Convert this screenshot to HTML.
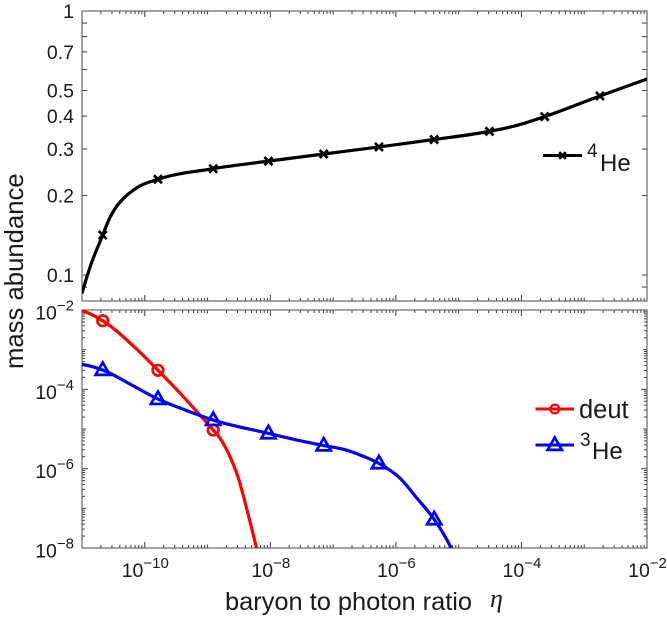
<!DOCTYPE html>
<html>
<head>
<meta charset="utf-8">
<title>Big bang nucleosynthesis abundances</title>
<style>
html,body{margin:0;padding:0;background:#fff;width:667px;height:619px;overflow:hidden}
svg{display:block;font-family:"Liberation Sans",sans-serif;fill:#1a1a1a}
</style>
</head>
<body>
<svg id="chart" width="667" height="619" viewBox="0 0 667 619" xmlns="http://www.w3.org/2000/svg">
<defs>
<clipPath id="clip-top"><rect x="82" y="11" width="565" height="290"/></clipPath>
<clipPath id="clip-bottom"><rect x="82" y="310" width="565" height="238"/></clipPath>
</defs>
<text transform="translate(23,369) rotate(-90)" font-size="25.7">mass abundance</text>
<text x="225" y="610" font-size="25.4">baryon to photon ratio</text>
<text x="490" y="607" font-size="26" font-style="italic" style="font-family:'Liberation Serif',serif">η</text>
<g id="grid-layer"></g>
<g id="series-layer"></g>
<g>
<text x="587" y="157" font-size="19">4</text>
<text x="600" y="171" font-size="24">He</text>
</g>
<g>
<text x="579" y="418" font-size="25.5">deut</text>
</g>
<g>
<text x="580" y="446" font-size="19">3</text>
<text x="592" y="459" font-size="24">He</text>
</g>
</svg>
<script>
// x values are log10(eta)
const he4LogEta = [-11, -10.87, -10.67, -10.574, -10.47, -10.31, -10.1, -9.79, -8.91, -8.03, -7.15, -6.27, -5.39, -4.51, -4.09, -3.63, -2.75, -2];
const he4Values = [0.0852, 0.1075, 0.1417, 0.1615, 0.179, 0.198, 0.216, 0.2305, 0.2528, 0.27, 0.2873, 0.3055, 0.326, 0.35, 0.3677, 0.398, 0.4767, 0.5525];
const he4MarkerEta = [-10.67, -9.79, -8.91, -8.03, -7.15, -6.27, -5.39, -4.51, -3.63, -2.75];
const he4MarkerValues = [0.1417, 0.2305, 0.2528, 0.27, 0.2873, 0.3055, 0.326, 0.35, 0.398, 0.4767];

const deutLogEta = [-11, -10.67, -10.155, -9.79, -9.41, -8.91, -8.826, -8.667, -8.507, -8.373, -8.225, -8.19];
const deutValues = [0.0097, 0.00537, 0.00113, 0.000302, 0.0000718, 0.0000094, 0.00000664, 0.00000243, 5.62e-7, 9.33e-8, 1.05e-8, 6e-9];
const deutMarkerEta = [-10.67, -9.79, -8.91];
const deutMarkerValues = [0.00537, 0.000302, 0.0000094];

const he3LogEta = [-11, -10.67, -10.207, -9.79, -9.357, -8.91, -8.03, -7.576, -7.15, -6.832, -6.566, -6.27, -5.928, -5.662, -5.39, -5.13, -5.083];
const he3Values = [0.000427, 0.000307, 0.000128, 0.0000569, 0.0000301, 0.0000168, 0.00000776, 0.00000526, 0.00000383, 0.00000307, 0.0000022, 0.00000136, 5.62e-7, 1.78e-7, 5.26e-8, 1.07e-8, 7.4e-9];
const he3MarkerEta = [-10.67, -9.79, -8.91, -8.03, -7.15, -6.27, -5.39];
const he3MarkerValues = [0.000307, 0.0000569, 0.0000168, 0.00000776, 0.00000383, 0.00000136, 5.26e-8];

const xTickExponents = [-10, -8, -6, -4, -2];
const topTickLabels = ["1", "0.7", "0.5", "0.4", "0.3", "0.2", "0.1"];
const topTickValues = [1, 0.7, 0.5, 0.4, 0.3, 0.2, 0.1];
const topMinorValues = [0.9, 0.8, 0.6, 0.09];
const bottomTickExponents = [-2, -4, -6, -8];

const NS = 'http://www.w3.org/2000/svg';
const grid = document.getElementById('grid-layer');
const seriesLayer = document.getElementById('series-layer');

const xLeft = 82, xRight = 647, xMin = -11, xMax = -2;
function xScale(logEta) { return xLeft + (logEta - xMin) / (xMax - xMin) * (xRight - xLeft); }
const topY0 = 11, topY1 = 301;
function yTop(v) { return topY0 - Math.log10(v) * 264; }
const botY0 = 310, botY1 = 548;
function yBottom(v) { return botY0 + (-2 - Math.log10(v)) / 6 * (botY1 - botY0); }

function shape(tag, attrs, parent) {
  const el = document.createElementNS(NS, tag);
  for (const k in attrs) el.setAttribute(k, attrs[k]);
  parent.appendChild(el);
  return el;
}
function tickLine(x1, y1, x2, y2) {
  const el = shape('line', {x1: x1, y1: y1, x2: x2, y2: y2, stroke: '#3a3a3a', 'stroke-width': 1}, grid);
  
  
}
function frame(y0, y1, name) {
  const el = shape('rect', {x: xLeft, y: y0, width: xRight - xLeft, height: y1 - y0, fill: 'none', stroke: '#666', 'stroke-width': 1.2}, grid);
  
  
}
function expLabel(x, y, anchor, exp, name) {
  const t = shape('text', {x: x, y: y, 'text-anchor': anchor, 'font-size': 19.5}, grid);
  
  
  t.textContent = '10';
  const s = shape('tspan', {dy: -9, 'font-size': 15}, t);
  s.textContent = '\u2212' + Math.abs(exp);
}
function plainLabel(x, y, text, name) {
  const t = shape('text', {x: x, y: y, 'text-anchor': 'end', 'font-size': 19.5}, grid);
  
  
  t.textContent = text;
}

// x ticks for both panels
[[topY0, topY1], [botY0, botY1]].forEach(function (p) {
  for (let d = xMin; d <= xMax; d++) {
    const X = xScale(d);
    const major = d % 2 === 0;
    const len = major ? 6 : 3.5;
    tickLine(X, p[0], X, p[0] + len);
    tickLine(X, p[1], X, p[1] - len);
    if (d < xMax) {
      for (let m = 2; m < 10; m++) {
        const Xm = xScale(d + Math.log10(m));
        tickLine(Xm, p[0], Xm, p[0] + 3);
        tickLine(Xm, p[1], Xm, p[1] - 3);
      }
    }
  }
});

// top panel y ticks
topTickValues.concat(topMinorValues).forEach(function (v) {
  const Y = yTop(v);
  tickLine(xLeft, Y, xLeft + 5, Y);
  tickLine(xRight, Y, xRight - 5, Y);
});
topTickValues.forEach(function (v, i) {
  plainLabel(74, yTop(v) + 7, topTickLabels[i], 'y-tick-label-top');
});

// bottom panel y ticks
for (let d = -8; d < -2; d++) {
  for (let m = 1; m < 10; m++) {
    const Y = yBottom(m * Math.pow(10, d));
    const len = m === 1 ? (d % 2 === 0 ? 6 : 4) : 3;
    tickLine(xLeft, Y, xLeft + len, Y);
    tickLine(xRight, Y, xRight - len, Y);
  }
}
tickLine(xLeft, botY0, xLeft + 6, botY0);
tickLine(xRight, botY0, xRight - 6, botY0);
bottomTickExponents.forEach(function (e) {
  expLabel(74, yBottom(Math.pow(10, e)) + 9.5, 'end', e, 'y-tick-label-bottom');
});
xTickExponents.forEach(function (e) {
  expLabel(xScale(e) + 0.5, 577, 'middle', e, 'x-tick-label');
});
frame(topY0, topY1, 'top-panel-frame');
frame(botY0, botY1, 'bottom-panel-frame');

// Cubic Hermite path with spacing-aware (parabolic) tangents
function smoothPath(pts) {
  const n = pts.length;
  const h = [], m = [], t = [];
  for (let i = 0; i < n - 1; i++) {
    h.push(pts[i + 1][0] - pts[i][0]);
    m.push((pts[i + 1][1] - pts[i][1]) / h[i]);
  }
  t[0] = ((2 * h[0] + h[1]) * m[0] - h[0] * m[1]) / (h[0] + h[1]);
  for (let i = 1; i < n - 1; i++) {
    t[i] = (h[i] * m[i - 1] + h[i - 1] * m[i]) / (h[i - 1] + h[i]);
  }
  t[n - 1] = ((2 * h[n - 2] + h[n - 3]) * m[n - 2] - h[n - 2] * m[n - 3]) / (h[n - 2] + h[n - 3]);
  let d = 'M' + pts[0][0].toFixed(2) + ' ' + pts[0][1].toFixed(2);
  for (let i = 0; i < n - 1; i++) {
    d += 'C' + (pts[i][0] + h[i] / 3).toFixed(2) + ' ' + (pts[i][1] + t[i] * h[i] / 3).toFixed(2) + ' ' +
         (pts[i + 1][0] - h[i] / 3).toFixed(2) + ' ' + (pts[i + 1][1] - t[i + 1] * h[i] / 3).toFixed(2) + ' ' +
         pts[i + 1][0].toFixed(2) + ' ' + pts[i + 1][1].toFixed(2);
  }
  return d;
}
function marker(kind, cx, cy, color, size, sw, parent) {
  let el;
  if (kind === 'x') {
    const r = size;
    el = shape('path', {d: 'M' + (cx - r) + ' ' + (cy - r) + 'L' + (cx + r) + ' ' + (cy + r) + 'M' + (cx - r) + ' ' + (cy + r) + 'L' + (cx + r) + ' ' + (cy - r), stroke: color, 'stroke-width': sw, fill: 'none'}, parent);
  } else if (kind === 'o') {
    el = shape('circle', {cx: cx, cy: cy, r: size, stroke: color, 'stroke-width': sw, fill: 'none'}, parent);
  } else {
    const r = size;
    el = shape('path', {d: 'M' + cx + ' ' + (cy - r) + 'L' + (cx + r * 0.95) + ' ' + (cy + r * 0.65) + 'L' + (cx - r * 0.95) + ' ' + (cy + r * 0.65) + 'Z', stroke: color, 'stroke-width': sw, fill: 'none'}, parent);
  }
  
  
}
function drawSeries(name, logEta, vals, mEta, mVals, yFn, color, kind, size, sw, clipId) {
  const g = shape('g', {'clip-path': 'url(#' + clipId + ')'}, seriesLayer);
  
  
  const pts = logEta.map(function (e, i) { return [xScale(e), yFn(vals[i])]; });
  const line = shape('path', {d: smoothPath(pts), fill: 'none', stroke: color, 'stroke-width': 3.2, 'stroke-linejoin': 'round'}, g);
  
  
  mEta.forEach(function (e, i) {
    marker(kind, xScale(e), yFn(mVals[i]), color, size, sw, g);
  });
}
drawSeries('he4-series', he4LogEta, he4Values, he4MarkerEta, he4MarkerValues, yTop, '#000', 'x', 4, 2.7, 'clip-top');
drawSeries('deut-series', deutLogEta, deutValues, deutMarkerEta, deutMarkerValues, yBottom, '#f00', 'o', 5.3, 2.6, 'clip-bottom');
drawSeries('he3-series', he3LogEta, he3Values, he3MarkerEta, he3MarkerValues, yBottom, '#00f', 't', 7.5, 2.7, 'clip-bottom');

// legend keys
function legendKey(y, color, kind, size, sw, x1, x2, name) {
  const g = shape('g', {}, seriesLayer);
  
  
  shape('line', {x1: x1, y1: y, x2: x2, y2: y, stroke: color, 'stroke-width': 3}, g);
  marker(kind, (x1 + x2) / 2, y, color, size, sw, g);
}
legendKey(155.5, '#000', 'x', 3.3, 2.6, 543, 582, 'legend-he4-key');
legendKey(409, '#f00', 'o', 4.4, 2.2, 535.5, 574, 'legend-deut-key');
legendKey(445, '#00f', 't', 7.5, 2.7, 535.5, 574, 'legend-he3-key');
</script>
</body>
</html>
